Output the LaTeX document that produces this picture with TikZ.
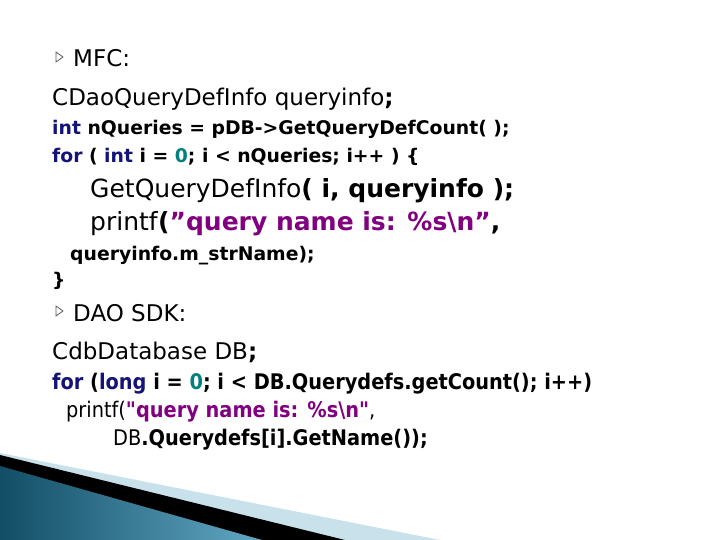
\documentclass[tikz,border=0pt]{standalone}
\usepackage{fontspec}
\setmainfont{DejaVu Sans}
\newfontfamily\cond{DejaVu Sans Condensed}
\definecolor{kw}{RGB}{20,20,120}
\definecolor{num}{RGB}{0,128,128}
\definecolor{str}{RGB}{128,0,128}
\definecolor{blu}{RGB}{30,130,170}
\definecolor{lbl}{RGB}{200,225,235}
\tikzset{txt/.style={anchor=base west,inner sep=0pt,text=black}}
\newcommand{\K}[1]{\textcolor{kw}{#1}}
\newcommand{\N}[1]{\textcolor{num}{#1}}
\newcommand{\Sq}[1]{\textcolor{str}{\bfseries #1}}
\newcommand{\Q}{\char34\relax}
\begin{document}
\begin{tikzpicture}[x=1pt,y=-1pt]
\useasboundingbox (0,0) rectangle (720,540);
% decoration
\fill[lbl] (0,453) -- (440,540) -- (0,540) -- cycle;
\fill[black] (0,455) -- (345,540) -- (0,540) -- cycle;
\shade[left color=blu!60!black, right color=blu!70!white] (0,466) -- (262,540) -- (0,540) -- cycle;
% bullets
\draw[gray!70!black,thick] (56,52) -- (63,57) -- (56,62) -- cycle;
\draw[gray!70!black,thick] (56,306) -- (63,311) -- (56,316) -- cycle;
\node[txt,font=\fontsize{23}{25}\selectfont] (mfc) at (73,67) {MFC:};
\node[txt,font=\fontsize{23}{25}\selectfont] (cdao) at (52,106) {CDaoQueryDefInfo queryinfo\textbf{;}};
\node[txt,font=\fontsize{18.8}{20}\selectfont\bfseries] (l1) at (52,135) {\K{int} nQueries = pDB->GetQueryDefCount( );};
\node[txt,font=\fontsize{18.8}{20}\selectfont\bfseries] (l2) at (52,163) {\K{for} ( \K{int} i = \N{0}; i < nQueries; i++ ) \{};
\node[txt,font=\fontsize{25}{27}\selectfont] (l3) at (90,198) {GetQueryDefInfo\textbf{( i, queryinfo );}};
\node[txt,font=\fontsize{25}{27}\selectfont] (l4) at (90,230) {printf\textbf{(}\Sq{\Q query name is: \%s\textbackslash n\Q}\textbf{,}};
\node[txt,font=\fontsize{18.8}{20}\selectfont\bfseries] (l5) at (70,260) {queryinfo.m\_strName);};
\node[txt,font=\fontsize{18.8}{20}\selectfont\bfseries] (l6) at (52,286) {\}};
\node[txt,font=\fontsize{23}{25}\selectfont] (dao) at (73,321) {DAO SDK:};
\node[txt,font=\fontsize{23}{25}\selectfont] (cdb) at (52,359) {CdbDatabase DB\textbf{;}};
\node[txt,font=\fontsize{21.5}{23}\selectfont\bfseries\cond] (m1) at (52,389) {\K{for} (\K{long} i = \N{0}; i < DB.Querydefs.getCount(); i++)};
\node[txt,font=\fontsize{21.5}{23}\selectfont\cond] (m2) at (66,417) {printf(\Sq{\Q query name is: \%s\textbackslash n\Q},};
\node[txt,font=\fontsize{21.5}{23}\selectfont\cond] (m3) at (113,445) {DB\textbf{.Querydefs[i].GetName());}};
\end{tikzpicture}
\end{document}
